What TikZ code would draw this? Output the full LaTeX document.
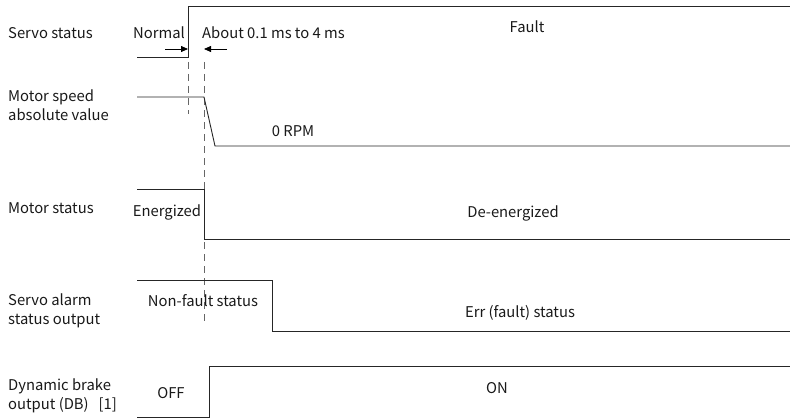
\documentclass[tikz,border=0pt]{standalone}
\usepackage{fontspec}
\setmainfont{Noto Sans CJK SC}
\usetikzlibrary{arrows.meta}
\begin{document}
\begin{tikzpicture}[x=1pt,y=-1pt,
  sig/.style={draw=black!85,line width=0.9pt},
  guide/.style={draw=black!60,line width=0.8pt,dash pattern=on 7pt off 5pt},
  lbl/.style={font=\fontsize{14.8}{19}\selectfont,text=black!90,inner sep=0pt,align=left},
  txt/.style={font=\fontsize{14.8}{19}\selectfont,text=black!90,inner sep=0pt},
  dim/.style={draw=black,line width=0.8pt,-{Triangle[length=7pt,width=6pt]}}]
\useasboundingbox (0,0) rectangle (790,420);
% left labels
\node[lbl,anchor=west] (l1) at (8,33) {Servo status};
\node[lbl,anchor=west] (l2) at (8,105) {Motor speed\\absolute value};
\node[lbl,anchor=west] (l3) at (8,208) {Motor status};
\node[lbl,anchor=west] (l4) at (8,311) {Servo alarm\\status output};
\node[lbl,anchor=west] (l5) at (8,396) {Dynamic brake\\output (DB)\ \ \ [1]};
% servo status
\coordinate (s0) at (137,57); \coordinate (s1) at (188,57);
\coordinate (s2) at (188,6); \coordinate (s3) at (790,6);
\draw[sig] (s0) -- (s1) -- (s2) -- (s3);
\node[txt] (normal) at (159,33) {Normal};
\node[txt,anchor=west] (about) at (202,33) {About 0.1 ms to 4 ms};
\node[txt] (fault) at (527,27) {Fault};
% arrows
\coordinate (a1s) at (165,49); \coordinate (a1e) at (188,49);
\coordinate (a2s) at (227,49); \coordinate (a2e) at (204,49);
\draw[dim] (a1s) -- (a1e);
\draw[dim] (a2s) -- (a2e);
% dashed guides
\coordinate (d1a) at (188,62); \coordinate (d1b) at (188,114);
\coordinate (d2a) at (204,62); \coordinate (d2b) at (204,323);
\draw[guide] (d1a) -- (d1b);
\draw[guide] (d2a) -- (d2b);
% motor speed
\coordinate (m0) at (137,97); \coordinate (m1) at (204,97);
\coordinate (m2) at (215,146); \coordinate (m3) at (790,146);
\draw[sig] (m0) -- (m1) -- (m2) -- (m3);
\node[txt] (rpm) at (293,131) {0 RPM};
% motor status
\coordinate (e0) at (137,189); \coordinate (e1) at (204,189);
\coordinate (e2) at (204,239); \coordinate (e3) at (790,239);
\draw[sig] (e0) -- (e1) -- (e2) -- (e3);
\node[txt] (ener) at (167,212) {Energized};
\node[txt] (deener) at (513,213) {De-energized};
% servo alarm
\coordinate (f0) at (137,280); \coordinate (f1) at (272,280);
\coordinate (f2) at (272,331); \coordinate (f3) at (790,331);
\draw[sig] (f0) -- (f1) -- (f2) -- (f3);
\node[txt] (nonf) at (203,301) {Non-fault status};
\node[txt] (err) at (520,313) {Err (fault) status};
% DB
\coordinate (b0) at (137,417); \coordinate (b1) at (209,417);
\coordinate (b2) at (209,366); \coordinate (b3) at (790,366);
\draw[sig] (b0) -- (b1) -- (b2) -- (b3);
\node[txt] (off) at (171,393) {OFF};
\node[txt] (on) at (497,388) {ON};
\end{tikzpicture}
\end{document}
